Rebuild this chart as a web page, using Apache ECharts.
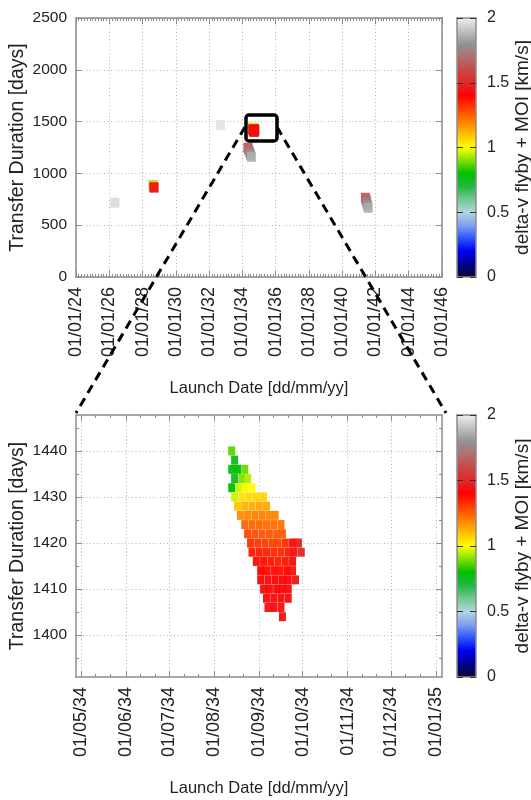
<!DOCTYPE html>
<html><head><meta charset="utf-8">
<script src="https://cdn.jsdelivr.net/npm/echarts@6/dist/echarts.min.js"></script>
<style>html,body{margin:0;padding:0;background:#fff}#c{width:531px;height:800px}</style>
</head><body><div id="c"></div>
<script>
// ---------------- data ----------------
// overview (top panel) solutions outside the zoomed window
const overviewLaunch = ['2026-05-05',
  '2028-08-20','2028-08-28','2028-09-04','2028-09-10',
  '2032-09-05',
  '2034-05-01','2034-05-20','2034-06-10','2034-06-28','2034-07-18',
  '2041-05-25','2041-06-10','2041-06-25','2041-07-10','2041-07-25'];
const overviewDuration = [717, 885, 878, 869, 862, 1467, 1248, 1228, 1205, 1180, 1160, 765, 745, 720, 692, 668];
const overviewDeltaV = [1.95, 0.85, 1.05, 1.3, 1.46, 1.97, 1.62, 1.68, 1.74, 1.8, 1.86, 1.62, 1.68, 1.74, 1.8, 1.86];

// zoomed window (bottom panel): one row per transfer duration
const zoomDurations = [1440, 1438, 1436, 1434, 1432, 1430, 1428, 1426, 1424, 1422, 1420, 1418, 1416, 1414, 1412, 1410, 1408, 1406, 1404];
const zoomLaunch = [
  ['2034-08-13'],
  ['2034-08-15'],
  ['2034-08-13','2034-08-17','2034-08-22'],
  ['2034-08-15','2034-08-20','2034-08-24'],
  ['2034-08-13','2034-08-18','2034-08-22','2034-08-27'],
  ['2034-08-15','2034-08-20','2034-08-25','2034-08-30','2034-09-04'],
  ['2034-08-17','2034-08-22','2034-08-27','2034-09-01','2034-09-06'],
  ['2034-08-19','2034-08-24','2034-08-29','2034-09-03','2034-09-08','2034-09-12'],
  ['2034-08-22','2034-08-27','2034-09-01','2034-09-06','2034-09-11','2034-09-16'],
  ['2034-08-24','2034-08-29','2034-09-03','2034-09-08','2034-09-13','2034-09-17'],
  ['2034-08-26','2034-08-31','2034-09-05','2034-09-10','2034-09-14','2034-09-19','2034-09-24','2034-09-28'],
  ['2034-08-27','2034-09-01','2034-09-06','2034-09-11','2034-09-16','2034-09-21','2034-09-25','2034-09-30'],
  ['2034-08-30','2034-09-04','2034-09-09','2034-09-14','2034-09-19','2034-09-24'],
  ['2034-09-02','2034-09-06','2034-09-11','2034-09-15','2034-09-20','2034-09-24'],
  ['2034-09-02','2034-09-07','2034-09-12','2034-09-17','2034-09-21','2034-09-26'],
  ['2034-09-04','2034-09-08','2034-09-13','2034-09-17','2034-09-21'],
  ['2034-09-06','2034-09-11','2034-09-16','2034-09-21'],
  ['2034-09-07','2034-09-11','2034-09-16'],
  ['2034-09-17']
];
const zoomDeltaV = [
  [0.87],
  [0.76],
  [0.78, 0.80, 0.88],
  [0.74, 0.90, 0.94],
  [0.80, 0.96, 0.99, 1.00],
  [0.96, 1.05, 1.06, 1.06, 1.07],
  [1.09, 1.12, 1.13, 1.14, 1.14],
  [1.18, 1.19, 1.20, 1.20, 1.19, 1.19],
  [1.25, 1.24, 1.24, 1.23, 1.23, 1.22],
  [1.29, 1.28, 1.27, 1.27, 1.26, 1.26],
  [1.33, 1.32, 1.31, 1.30, 1.30, 1.33, 1.42, 1.47],
  [1.36, 1.36, 1.35, 1.34, 1.34, 1.36, 1.43, 1.50],
  [1.38, 1.38, 1.37, 1.36, 1.37, 1.42],
  [1.40, 1.39, 1.38, 1.38, 1.40, 1.44],
  [1.41, 1.41, 1.40, 1.40, 1.41, 1.45],
  [1.42, 1.42, 1.41, 1.41, 1.42],
  [1.43, 1.43, 1.42, 1.43],
  [1.44, 1.43, 1.44],
  [1.44]
];

// tick labels
const topTickDates = ['2024-01-01','2026-01-01','2028-01-01','2030-01-01','2032-01-01','2034-01-01','2036-01-01','2038-01-01','2040-01-01','2042-01-01','2044-01-01','2046-01-01'];
const bottomTickDates = ['2034-05-01','2034-06-01','2034-07-01','2034-08-01','2034-09-01','2034-10-01','2034-11-01','2034-12-01','2035-01-01'];
const topDurationTicks = [0, 500, 1000, 1500, 2000, 2500];
const bottomDurationTicks = [1400, 1410, 1420, 1430, 1440];
const colorbarTicks = [0, 0.5, 1, 1.5, 2];
const colormap = ['#0a0a30','#000090','#0000f0','#2f55ff','#80a0f0','#b4d4e0','#70c890','#20b840','#00c000','#80e000','#ffff00','#ffc000','#ff8000','#ff4000','#ff0000','#e02828','#c84848','#b07070','#939393','#c0c0c0','#f0f0f0'];

// ---------------- helpers ----------------
const DAY = 86400000;
const ts = s => Date.parse(s + 'T00:00:00Z');
const pad = n => String(n).padStart(2, '0');
const fmtDate = v => { const d = new Date(v); return pad(d.getUTCDate()) + '/' + pad(d.getUTCMonth() + 1) + '/' + pad(d.getUTCFullYear() % 100); };
const REG = "'Liberation Sans', Arial, sans-serif";
const FRAME = {color: '#8c8c8c', width: 1.5};
const TICK = {color: '#8c8c8c', width: 1};
const GRIDLINE = {color: '#b4b4b4', width: 1, type: [1, 2.5]};

const zoomPts = [];
zoomDurations.forEach((d, i) => zoomLaunch[i].forEach((s, j) => zoomPts.push([ts(s), d, zoomDeltaV[i][j]])));
const overviewPts = overviewLaunch.map((s, i) => [ts(s), overviewDuration[i], overviewDeltaV[i]]);

const topMajor = topTickDates.map(ts);
const topMinor = [];
for (let y = 2024; y < 2046; y++) for (let m = 0; m < 12; m += 2) if (m !== 0 || y % 2) topMinor.push(Date.UTC(y, m, 1));
const botMajor = bottomTickDates.map(ts);
const botMinor = [];
for (let i = 0; i < botMajor.length - 1; i++) { const d = new Date(botMajor[i]); botMinor.push(Date.UTC(d.getUTCFullYear(), d.getUTCMonth(), 11), Date.UTC(d.getUTCFullYear(), d.getUTCMonth(), 21)); }
botMinor.push(Date.UTC(2034, 3, 21));
const botDurMinor = [1395, 1405, 1415, 1425, 1435, 1445];

const topXMin = ts('2024-01-01'), topXMax = ts('2046-01-01');
const botXMin = ts('2034-05-01') - 3.45 * DAY, botXMax = ts('2035-01-01') + 4.1 * DAY;
const botYMin = 1390.9, botYMax = 1447.8;

function xMain(grid, min, max, major, name) {
  return {type: 'value', gridIndex: grid, position: 'bottom', min, max,
    axisLine: {show: true, onZero: false, lineStyle: FRAME},
    axisTick: {show: true, inside: true, length: 6, customValues: major, lineStyle: TICK},
    axisLabel: {show: true, customValues: major, rotate: 90, margin: 10, formatter: fmtDate, fontFamily: REG, fontSize: 18, color: '#222', hideOverlap: false},
    splitLine: {show: true, lineStyle: GRIDLINE},
    name, nameLocation: 'middle', nameGap: 103, nameMoveOverlap: false,
    nameTextStyle: {fontFamily: REG, fontSize: 16.5, color: '#222'}};
}
function tickOnly(grid, position, min, max, values, len, frame, z) {
  return {type: 'value', gridIndex: grid, position, min, max, z: z || 0,
    axisLine: {show: !!frame, onZero: false, lineStyle: FRAME},
    axisTick: {show: !!values, inside: true, length: len, customValues: values || [], lineStyle: TICK},
    axisLabel: {show: false}, splitLine: {show: false}};
}
function yMain(grid, min, max, major, name) {
  return {type: 'value', gridIndex: grid, position: 'left', min, max,
    axisLine: {show: true, onZero: false, lineStyle: FRAME},
    axisTick: {show: true, inside: true, length: 6, customValues: major, lineStyle: TICK},
    axisLabel: {show: true, customValues: major, margin: 9, fontFamily: REG, fontSize: 15.5, color: '#222', formatter: v => String(v)},
    splitLine: {show: true, lineStyle: GRIDLINE},
    name, nameLocation: 'middle', nameGap: 48, nameMoveOverlap: false,
    nameTextStyle: {fontFamily: REG, fontSize: 19.5, color: '#222'}};
}
function cbAxis(grid, position, labels) {
  const a = {type: 'value', gridIndex: grid, position, min: 0, max: 2, z: 10,
    axisLine: {show: true, onZero: false, lineStyle: FRAME},
    axisTick: {show: true, inside: true, length: 6, customValues: colorbarTicks, lineStyle: {color: '#333', width: 1}},
    axisLabel: {show: false}, splitLine: {show: false}};
  if (labels) {
    a.axisLabel = {show: true, customValues: colorbarTicks, margin: 11, fontFamily: REG, fontSize: 16, color: '#222', formatter: v => String(v)};
    a.name = 'delta-v flyby + MOI [km/s]';
    a.nameLocation = 'middle'; a.nameRotate = 90; a.nameGap = 37; a.nameMoveOverlap = false;
    a.nameTextStyle = {fontFamily: REG, fontSize: 19, color: '#222'};
  }
  return a;
}

const chart = echarts.init(document.getElementById('c'), null, {renderer: 'canvas'});
chart.setOption({
  animation: false,
  backgroundColor: '#fff',
  grid: [
    {left: 76, top: 18, width: 366, height: 259, outerBoundsMode: 'none'},
    {left: 76, top: 415, width: 366, height: 262, outerBoundsMode: 'none'},
    {left: 457, top: 18, width: 19, height: 259, outerBoundsMode: 'none'},
    {left: 457, top: 415, width: 19, height: 262, outerBoundsMode: 'none'}
  ],
  xAxis: [
    xMain(0, topXMin, topXMax, topMajor, 'Launch Date [dd/mm/yy]'),
    tickOnly(0, 'bottom', topXMin, topXMax, topMinor, 3),
    tickOnly(0, 'top', topXMin, topXMax, topMajor, 6, true),
    tickOnly(0, 'top', topXMin, topXMax, topMinor, 3),
    xMain(1, botXMin, botXMax, botMajor, 'Launch Date [dd/mm/yy]'),
    tickOnly(1, 'bottom', botXMin, botXMax, botMinor, 3),
    tickOnly(1, 'top', botXMin, botXMax, botMajor, 6, true),
    tickOnly(1, 'top', botXMin, botXMax, botMinor, 3),
    tickOnly(2, 'bottom', 0, 1, null, 0, true, 10),
    tickOnly(2, 'top', 0, 1, null, 0, true, 10),
    tickOnly(3, 'bottom', 0, 1, null, 0, true, 10),
    tickOnly(3, 'top', 0, 1, null, 0, true, 10)
  ],
  yAxis: [
    yMain(0, 0, 2500, topDurationTicks, 'Transfer Duration [days]'),
    tickOnly(0, 'right', 0, 2500, topDurationTicks, 6, true),
    yMain(1, botYMin, botYMax, bottomDurationTicks, 'Transfer Duration [days]'),
    tickOnly(1, 'left', botYMin, botYMax, botDurMinor, 3),
    tickOnly(1, 'right', botYMin, botYMax, bottomDurationTicks, 6, true),
    tickOnly(1, 'right', botYMin, botYMax, botDurMinor, 3),
    cbAxis(2, 'left', false),
    cbAxis(2, 'right', true),
    cbAxis(3, 'left', false),
    cbAxis(3, 'right', true)
  ],
  visualMap: [
    {type: 'continuous', seriesIndex: 0, dimension: 2, min: 0, max: 2, left: 457, top: 18, itemWidth: 19, itemHeight: 259,
     calculable: false, hoverLink: false, padding: 0, inRange: {color: colormap}},
    {type: 'continuous', seriesIndex: 1, dimension: 2, min: 0, max: 2, left: 457, top: 415, itemWidth: 19, itemHeight: 262,
     calculable: false, hoverLink: false, padding: 0, inRange: {color: colormap}}
  ],
  series: [
    {type: 'scatter', xAxisIndex: 0, yAxisIndex: 0, symbol: 'rect', symbolSize: [9, 10], silent: true,
     itemStyle: {opacity: 0.9}, data: overviewPts.concat(zoomPts)},
    {type: 'scatter', xAxisIndex: 4, yAxisIndex: 2, symbol: 'rect', symbolSize: [7, 9], silent: true,
     itemStyle: {opacity: 0.95}, data: zoomPts}
  ],
  graphic: [
    {type: 'rect', z: 100, shape: {x: 246, y: 115, width: 31, height: 26, r: 3}, style: {fill: 'none', stroke: '#000', lineWidth: 3.5}},
    {type: 'line', z: 100, shape: {x1: 245, y1: 127, x2: 76, y2: 413}, style: {stroke: '#000', lineWidth: 3, lineDash: [9, 6]}},
    {type: 'line', z: 100, shape: {x1: 277, y1: 127, x2: 446, y2: 413}, style: {stroke: '#000', lineWidth: 3, lineDash: [9, 6]}}
  ]
});
</script></body></html>
